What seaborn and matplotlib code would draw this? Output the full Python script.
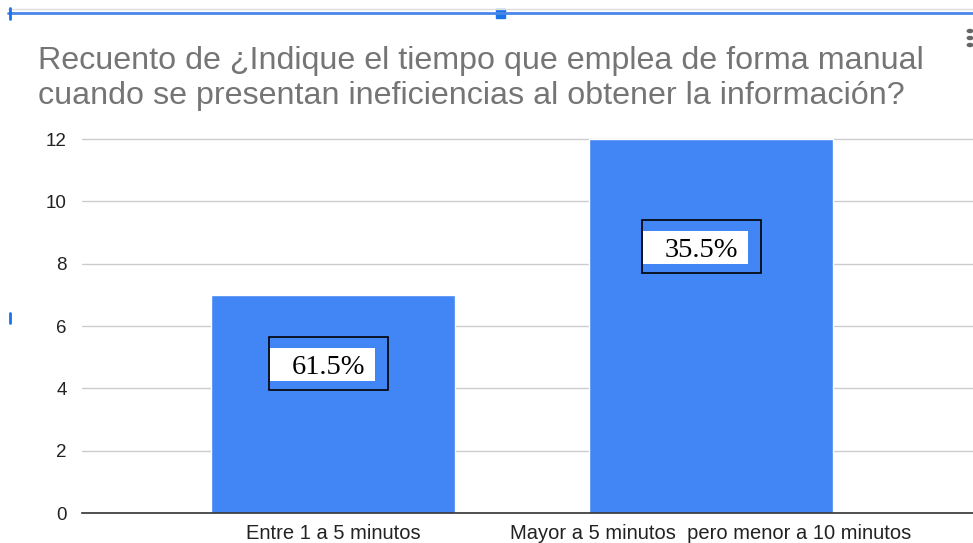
import matplotlib.pyplot as plt
import matplotlib.patches as mpatches
import matplotlib.lines as mlines
import pandas as pd
import seaborn as sns

# data
categorias = ['Entre 1 a 5 minutos', 'Mayor a 5 minutos  pero menor a 10 minutos']
recuento = [7, 12]
porcentajes = ['61.5%', '35.5%']
yticks = [0, 2, 4, 6, 8, 10, 12]

df = pd.DataFrame({'categoria': categorias, 'recuento': recuento})

sns.set_style('white')
plt.rcParams['font.family'] = ['Liberation Sans', 'DejaVu Sans']

fig = plt.figure(figsize=(9.73, 5.43), dpi=100)
ax = fig.add_axes([0.0843, 0.0552, 0.9157, 0.7002])

sns.barplot(data=df, x='categoria', y='recuento', color='#4285F4',
            saturation=1, width=0.645, ax=ax)
ax.set_xlim(-0.664, 1.693)
ax.set_ylim(0, 12.2)
ax.set_yticks(yticks)
ax.set_xlabel('')
ax.set_ylabel('')
for s in ['top', 'right', 'left']:
    ax.spines[s].set_visible(False)
ax.spines['bottom'].set_color('#333333')
ax.spines['bottom'].set_linewidth(1.2)
ax.grid(axis='y', color='#cccccc', linewidth=1)
ax.set_axisbelow(True)
ax.tick_params(axis='both', length=0, colors='#222222', labelsize=13.5)
ax.tick_params(axis='y', pad=11)
ax.tick_params(axis='x', pad=8)
for lbl in ax.get_xticklabels():
    lbl.set_fontsize(14.5)

# percentage boxes (black frame + white label)
offsets = [(-0.169, -0.012), (-0.183, -0.025)]
for i, (h, txt) in enumerate(zip(recuento, porcentajes)):
    yc = h - 2.25 if i == 0 else h - 3.5
    bx, tx = offsets[i]
    ax.add_patch(mpatches.Rectangle((i + bx, yc - 0.8), 0.315, 1.7,
                                    fill=False, edgecolor='black', linewidth=1.2, zorder=5))
    ax.add_patch(mpatches.Rectangle((i + bx + 0.003, yc - 0.52), 0.278, 1.06,
                                    facecolor='white', edgecolor='none', zorder=4))
    ax.text(i + tx, yc - 0.08, txt, ha='center', va='center', fontsize=20.5,
            family=['Liberation Serif', 'DejaVu Serif'], color='black', zorder=6)

fig.text(0.039, 0.856, 'Recuento de ¿Indique el tiempo que emplea de forma manual\n'
         'cuando se presentan ineficiencias al obtener la información?',
         ha='left', va='center', fontsize=23.2, color='#757575', linespacing=1.22)

# editor selection decorations
fig.add_artist(mlines.Line2D([0.008, 1], [1 - 9 / 543] * 2, color='#dddddd', linewidth=1))
fig.add_artist(mlines.Line2D([0.008, 1], [1 - 12.5 / 543] * 2, color='#4a86e8', linewidth=2))
fig.add_artist(mpatches.Rectangle((496 / 973, 1 - 18 / 543), 9 / 973, 9 / 543,
                                  color='#1a73e8', transform=fig.transFigure))
fig.add_artist(mlines.Line2D([10 / 973] * 2, [1 - 8 / 543, 1 - 19 / 543], color='#1a73e8', linewidth=2))
fig.add_artist(mlines.Line2D([10 / 973] * 2, [1 - 313 / 543, 1 - 323 / 543], color='#1a73e8', linewidth=2))
for yy in [31, 38, 45]:
    fig.add_artist(mpatches.Circle((970 / 973, 1 - yy / 543), 0.0028, color='#666666',
                                   transform=fig.transFigure))

fig.savefig('out.png', dpi=100)
